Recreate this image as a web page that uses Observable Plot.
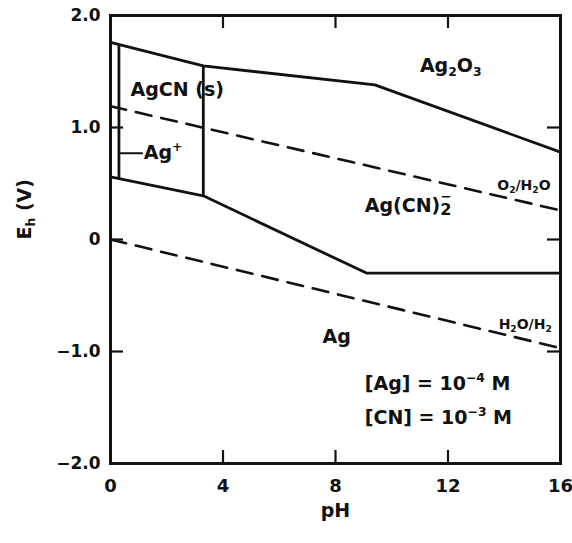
<!DOCTYPE html>
<html><head><meta charset="utf-8">
<script src="https://cdn.jsdelivr.net/npm/d3@7"></script>
<script src="https://cdn.jsdelivr.net/npm/@observablehq/plot@0.6"></script>
<style>html,body{margin:0;padding:0;background:#fff;} svg{display:block;}</style>
</head><body><div id="chart"></div>
<script>
// ---- data ----
const xTicks = [0, 4, 8, 12, 16];
const xInnerTicks = [4, 8, 12];
const yTicks = [-2, -1, 0, 1, 2];
const yTickLabels = ["−2.0", "−1.0", "0", "1.0", "2.0"];
const yInnerTicks = [-1, 0, 1];

const upperPH = [0, 3.3, 9.4, 16];
const upperE = [1.76, 1.55, 1.38, 0.78];
const lowerPH = [0, 3.3, 9.1, 16];
const lowerE = [0.56, 0.39, -0.3, -0.3];
const wallPH = [0.3, 3.3];
const wallTopE = [1.74, 1.55];
const wallBottomE = [0.545, 0.39];
const o2PH = [0, 16];
const o2E = [1.19, 0.26];
const h2PH = [0, 16];
const h2E = [0.0, -0.97];
const leaderPH = [0.3, 1.12];
const leaderE = [0.77, 0.77];

const regionText = ["AgCN (s)", "Ag⁺", "Ag₂O₃", "Ag(CN)₂⁻", "Ag", "[Ag] = 10⁻⁴ M", "[CN] = 10⁻³ M"];
const regionPH = [0.71, 1.18, 11.0, 9.04, 7.54, 9.04, 9.04];
const regionE = [1.34, 0.77, 1.55, 0.30, -0.87, -1.29, -1.59];
const coupleText = ["O₂/H₂O", "H₂O/H₂"];
const couplePH = [13.75, 13.8];
const coupleE = [0.48, -0.76];
const xLabel = "pH";
const yLabel = "Eₕ (V)";

// ---- tables ----
const pts = (xs, ys) => xs.map((x, i) => ({pH: x, E: ys[i]}));
const walls = wallPH.map((x, i) => ({pH: x, top: wallTopE[i], bottom: wallBottomE[i]}));
const regions = regionText.map((t, i) => ({label: t, pH: regionPH[i], E: regionE[i]}));
const couples = coupleText.map((t, i) => ({label: t, pH: couplePH[i], E: coupleE[i]}));

const INK = "#111";
const LW = 2.8;
const W = 572, H = 543, ML = 110, MR = 12, MT = 15, MB = 80;
const FW = W - ML - MR, FH = H - MT - MB, TICK = 13;
const xDom = [0, 16], yDom = [-2, 2];
// tick length expressed in data units of each scale
const tx = TICK * (xDom[1] - xDom[0]) / FW;
const ty = TICK * (yDom[1] - yDom[0]) / FH;

const plot = Plot.plot({
  width: W, height: H,
  marginLeft: ML, marginRight: MR, marginTop: MT, marginBottom: MB,
  x: {domain: xDom, label: null},
  y: {domain: yDom, label: null},
  style: {fontFamily: "DejaVu Sans, sans-serif", color: INK, background: "#fff", overflow: "visible"},
  marks: [
    Plot.line(pts(o2PH, o2E), {x: "pH", y: "E", stroke: INK, strokeWidth: 2.6, strokeDasharray: "16,10"}),
    Plot.line(pts(h2PH, h2E), {x: "pH", y: "E", stroke: INK, strokeWidth: 2.6, strokeDasharray: "16,10"}),
    Plot.line(pts(upperPH, upperE), {x: "pH", y: "E", stroke: INK, strokeWidth: LW}),
    Plot.line(pts(lowerPH, lowerE), {x: "pH", y: "E", stroke: INK, strokeWidth: LW}),
    Plot.ruleX(walls, {x: "pH", y1: "bottom", y2: "top", stroke: INK, strokeWidth: LW}),
    Plot.line(pts(leaderPH, leaderE), {x: "pH", y: "E", stroke: INK, strokeWidth: 2}),
    // inward ticks on all four sides
    Plot.ruleX(xInnerTicks, {x: d => d, y1: yDom[0], y2: yDom[0] + ty, stroke: INK, strokeWidth: 2.2}),
    Plot.ruleX(xInnerTicks, {x: d => d, y1: yDom[1], y2: yDom[1] - ty, stroke: INK, strokeWidth: 2.2}),
    Plot.ruleY(yInnerTicks, {y: d => d, x1: xDom[0], x2: xDom[0] + tx, stroke: INK, strokeWidth: 2.2}),
    Plot.ruleY(yInnerTicks, {y: d => d, x1: xDom[1], x2: xDom[1] - tx, stroke: INK, strokeWidth: 2.2}),
    Plot.axisX(xTicks, {anchor: "bottom", tickSize: 0, tickPadding: 16, fontSize: 18, fontWeight: "bold", fill: INK, tickFormat: d => String(d)}),
    Plot.axisY(yTicks, {anchor: "left", tickSize: 0, tickPadding: 10, fontSize: 17, fontWeight: "bold", fill: INK, tickFormat: d => yTickLabels[yTicks.indexOf(d)]}),
    Plot.frame({stroke: INK, strokeWidth: 3}),
    Plot.text(regions, {x: "pH", y: "E", text: "label", textAnchor: "start", fontSize: 19, fontWeight: "bold", fill: INK}),
    Plot.text(couples, {x: "pH", y: "E", text: "label", textAnchor: "start", fontSize: 14, fontWeight: "bold", fill: INK}),
    Plot.text([xLabel], {text: d => d, frameAnchor: "bottom", lineAnchor: "middle", dy: 47, fontSize: 19, fontWeight: "bold", fill: INK}),
    Plot.text([yLabel], {text: d => d, frameAnchor: "left", lineAnchor: "middle", dx: -86, rotate: -90, fontSize: 19, fontWeight: "bold", fill: INK, ariaLabel: "y-label"})
  ]
});
document.getElementById("chart").append(plot);

// ---- render unicode sub/superscripts as real tspans ----
const SUB = {"₀": "0", "₁": "1", "₂": "2", "₃": "3", "₄": "4", "ₕ": "h"};
const SUP = {"⁺": "+", "⁻": "−", "⁰": "0", "¹": "1", "²": "2", "³": "3", "⁴": "4"};
const NS = "http://www.w3.org/2000/svg";
function richify(el) {
  const chars = [...el.textContent];
  if (!chars.some(c => SUB[c] || SUP[c])) return;
  const italic = el.closest('g[aria-label="y-label"]') != null;
  const segs = [];
  chars.forEach((ch, i) => {
    let type = SUB[ch] ? "sub" : SUP[ch] ? "sup" : "base";
    if (italic && i === 0) type = "ital";
    const c = SUB[ch] || SUP[ch] || ch;
    const last = segs[segs.length - 1];
    if (last && last.type === type && type !== "ital") last.text += c;
    else segs.push({type, text: c});
  });
  segs.forEach((s, i) => {
    if (s.type === "sub" && segs[i + 1] && segs[i + 1].type === "sup") { s.stack = true; segs[i + 1].stack = true; }
  });
  const fs = parseFloat(getComputedStyle(el).fontSize);
  el.textContent = "";
  let shift = 0, prev = null;
  for (const s of segs) {
    const t = document.createElementNS(NS, "tspan");
    let target = 0, size = null;
    if (s.type === "sub") { target = s.stack ? 0.15 * fs : 0.22 * fs; size = s.stack ? 0.85 * fs : 0.65 * fs; }
    else if (s.type === "sup") { target = s.stack ? -0.56 * fs : -0.42 * fs; size = s.stack ? 0.7 * fs : 0.65 * fs; }
    else if (s.type === "ital") { t.setAttribute("font-style", "italic"); }
    t.setAttribute("dy", (target - shift).toFixed(2));
    shift = target;
    if (size) t.setAttribute("font-size", size.toFixed(2));
    t.textContent = s.text;
    el.appendChild(t);
    if (s.stack && s.type === "sup" && prev) {
      const w2 = prev.getComputedTextLength();
      const wm = t.getComputedTextLength();
      t.setAttribute("dx", (-(w2 + wm) / 2).toFixed(2));
    }
    prev = t;
  }
}
plot.querySelectorAll("text").forEach(richify);
</script>
</body></html>
